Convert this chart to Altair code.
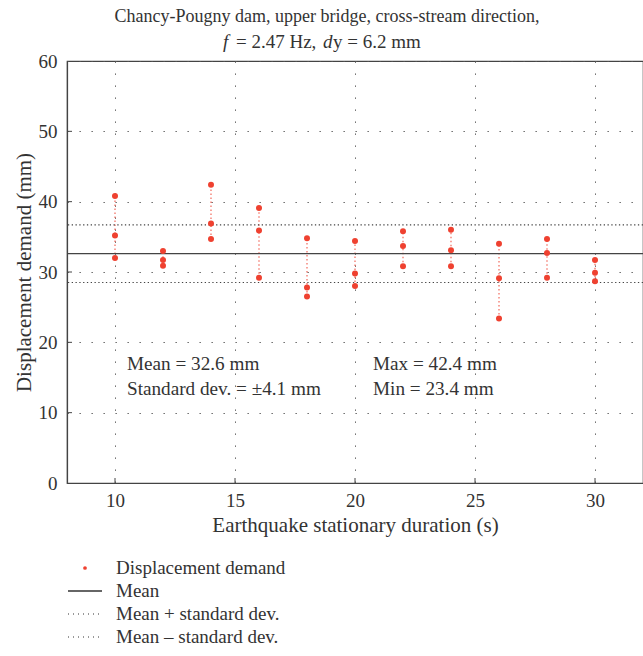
import altair as alt
import pandas as pd

# Earthquake stationary durations (s) and the three displacement demands (mm) per duration
durations = [10, 12, 14, 16, 18, 20, 22, 24, 26, 28, 30]
demand_a = [40.8, 33.0, 42.4, 39.1, 34.8, 34.4, 35.8, 36.0, 34.0, 34.7, 31.7]
demand_b = [35.2, 31.7, 36.9, 35.9, 27.8, 29.8, 33.7, 33.1, 29.1, 32.7, 29.9]
demand_c = [32.0, 30.9, 34.7, 29.2, 26.5, 28.0, 30.8, 30.8, 23.4, 29.2, 28.7]

MEAN = 32.6
STD = 4.1

y_ticks = [0, 10, 20, 30, 40, 50, 60]
x_ticks = [10, 15, 20, 25, 30]

legend_labels = ["Displacement demand", "Mean", "Mean + standard dev.", "Mean \u2013 standard dev."]

FONT = "Liberation Serif"
INK = "#333333"
RED = "#ef4130"
W, H = 576, 422

points = pd.DataFrame({
    "duration": durations * 3,
    "demand": demand_a + demand_b + demand_c,
})
ranges = pd.DataFrame({
    "duration": durations,
    "lo": [min(v) for v in zip(demand_a, demand_b, demand_c)],
    "hi": [max(v) for v in zip(demand_a, demand_b, demand_c)],
})
stats = pd.DataFrame({"level": [MEAN + STD, MEAN - STD]})
mean_df = pd.DataFrame({"level": [MEAN]})
ytick_df = pd.DataFrame({"v": y_ticks[1:-1]})
xtick_df = pd.DataFrame({"v": x_ticks})
one = pd.DataFrame({"k": [0]})

x_scale = alt.Scale(domain=[8, 32], nice=False, zero=False)
y_scale = alt.Scale(domain=[0, 60], nice=False)

x_axis = alt.Axis(
    values=x_ticks, title="Earthquake stationary duration (s)", ticks=False,
    labelPadding=8, titlePadding=4, grid=True, titleFontSize=21,
)
y_axis = alt.Axis(
    values=y_ticks, title="Displacement demand (mm)", ticks=False,
    labelPadding=10, titlePadding=4, grid=True, titleFontSize=21,
)


def X(field):
    return alt.X(field, type="quantitative", scale=x_scale, axis=x_axis)


def Y(field):
    return alt.Y(field, type="quantitative", scale=y_scale, axis=y_axis)


connectors = alt.Chart(ranges).mark_rule(
    color=RED, strokeDash=[1.5, 2.5], strokeWidth=1.2, opacity=0.8
).encode(x=X("duration"), y=Y("lo"), y2="hi")

dots = alt.Chart(points).mark_circle(color=RED, size=36, opacity=1).encode(
    x=X("duration"), y=Y("demand")
)

mean_line = alt.Chart(mean_df).mark_rule(color="#444444", strokeWidth=1.3).encode(
    y=Y("level")
)

std_lines = alt.Chart(stats).mark_rule(
    color="#444444", strokeWidth=1.1, strokeDash=[1.3, 2.5]
).encode(y=Y("level"))

y_inner_ticks = alt.Chart(ytick_df).mark_rule(color="#444444", strokeWidth=1).encode(
    y=Y("v"), x=alt.value(0), x2=alt.value(5)
)
x_inner_ticks = alt.Chart(xtick_df).mark_rule(color="#444444", strokeWidth=1).encode(
    x=X("v"), y=alt.value(H), y2=alt.value(H - 5)
)


def label(text, x, y, align="left", size=19.2, style="normal"):
    return alt.Chart(one).mark_text(
        align=align, baseline="middle", font=FONT, fontSize=size,
        fontStyle=style, color=INK,
    ).encode(x=alt.value(x), y=alt.value(y), text=alt.value(text))


# Title, with italic f and d on the second line
title_cx = 260
s = title_cx - 104
title = [
    label("Chancy-Pougny dam, upper bridge, cross-stream direction,", title_cx, -44, "center", size=18),
    label("f", s, -19, size=19, style="italic"),
    label("= 2.47 Hz,", s + 13, -19, size=19),
    label("d", s + 100, -19, size=19, style="italic"),
    label("y = 6.2 mm", s + 110, -19, size=19),
]

# Summary annotations inside the plot
notes = [
    label("Mean = 32.6 mm", 60, 303),
    label("Standard dev. = \u00b14.1 mm", 60, 328),
    label("Max = 42.4 mm", 306, 303),
    label("Min = 23.4 mm", 306, 328),
]

# Legend below the plot
rows = [507, 530, 553, 576]
legend = [
    alt.Chart(one).mark_circle(color=RED, size=14, opacity=1).encode(
        x=alt.value(18), y=alt.value(rows[0])
    ),
    alt.Chart(one).mark_rule(color="#333333", strokeWidth=1.3).encode(
        x=alt.value(1), x2=alt.value(35), y=alt.value(rows[1])
    ),
    alt.Chart(one).mark_rule(color="#333333", strokeWidth=1, strokeDash=[1, 4]).encode(
        x=alt.value(1), x2=alt.value(35), y=alt.value(rows[2])
    ),
    alt.Chart(one).mark_rule(color="#333333", strokeWidth=1, strokeDash=[1, 4]).encode(
        x=alt.value(1), x2=alt.value(35), y=alt.value(rows[3])
    ),
]
legend += [label(t, 49, r, size=19) for t, r in zip(legend_labels, rows)]

chart = alt.layer(
    connectors, std_lines, mean_line, dots, y_inner_ticks, x_inner_ticks,
    *notes, *title, *legend,
).properties(
    width=W, height=H,
    autosize=alt.AutoSizeParams(type="none"),
    padding={"left": 67, "top": 61, "right": 0, "bottom": 173},
).configure(
    font=FONT,
).configure_view(
    stroke="#444444", strokeWidth=1.2,
).configure_axis(
    domainColor="#444444", domainWidth=1.2,
    gridColor="#555555", gridDash=[1.3, 10.7], gridWidth=1,
    labelFont=FONT, labelFontSize=19, labelColor=INK,
    titleFont=FONT, titleFontWeight="normal", titleColor=INK,
)

chart.save("out.html", embed_options={"renderer": "svg", "actions": False})
